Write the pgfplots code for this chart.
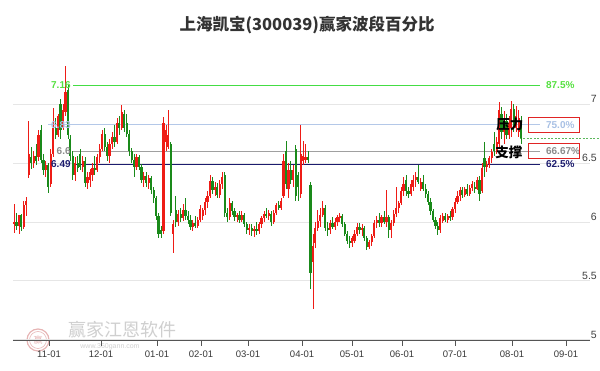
\documentclass[border=0pt]{standalone}
\usepackage{pgfplots}
\pgfplotsset{compat=1.18}
\usepackage{pgfplotstable}
\usepackage{fontspec}
\setmainfont{Liberation Sans}
\newfontfamily\cjk{Noto Sans CJK SC}
\definecolor{upred}{HTML}{EE1C16}
\definecolor{dngreen}{HTML}{1A8A1A}
\definecolor{fibgreen}{HTML}{44DD44}
\definecolor{fibgreentxt}{HTML}{55E040}
\definecolor{fibblue}{HTML}{B4C8E8}
\definecolor{fibbluetxt}{HTML}{A8C0E4}
\definecolor{fibgray}{HTML}{A0A0A0}
\definecolor{fibgraytxt}{HTML}{8A8A8A}
\definecolor{fibnavy}{HTML}{1C1C6E}
\definecolor{gridc}{HTML}{E6E6E6}
\definecolor{axc}{HTML}{555555}
\definecolor{boxred}{HTML}{E02424}
\definecolor{curgreen}{HTML}{5CB85C}
\definecolor{wmtext}{HTML}{CFCFCF}
\definecolor{wmlogo}{HTML}{E6B4B4}
\tikzset{ylabelrt/.style={anchor=south east, inner sep=1pt, xshift=8pt, text=black!75, font=\fontsize{10.5}{12}\selectfont}}

\pgfplotstableread{
o h l c
5.99 6.15 5.91 6.00
6.00 6.08 5.93 5.97
5.97 6.05 5.90 6.06
6.06 6.07 5.92 5.96
5.96 6.18 5.94 6.14
6.14 6.21 6.05 6.18
6.40 6.86 6.37 6.58
6.55 6.64 6.45 6.50
6.50 6.60 6.46 6.56
6.56 6.66 6.48 6.52
6.55 6.78 6.52 6.74
6.78 6.82 6.50 6.53
6.53 6.58 6.40 6.44
6.44 6.52 6.38 6.48
6.48 6.50 6.25 6.30
6.32 6.62 6.30 6.58
6.58 6.97 6.55 6.80
6.80 6.88 6.70 6.74
6.74 6.92 6.72 6.90
7.00 7.04 6.70 6.78
6.80 7.00 6.78 6.95
6.93 7.32 6.90 7.10
7.12 7.16 6.70 6.74
6.70 6.74 6.52 6.56
6.56 6.60 6.36 6.40
6.40 6.55 6.35 6.50
6.50 6.56 6.42 6.46
6.58 6.62 6.44 6.47
6.47 6.56 6.42 6.52
6.52 6.55 6.30 6.33
6.33 6.42 6.28 6.38
6.36 6.45 6.30 6.42
6.40 6.50 6.35 6.46
6.46 6.56 6.40 6.44
6.44 6.58 6.42 6.55
6.55 6.66 6.50 6.62
6.62 6.78 6.60 6.75
6.75 6.80 6.60 6.64
6.64 6.68 6.52 6.56
6.56 6.70 6.50 6.66
6.66 6.76 6.62 6.72
6.72 6.82 6.64 6.68
6.68 6.88 6.66 6.84
6.84 6.90 6.74 6.80
6.80 6.99 6.78 6.93
6.92 6.95 6.76 6.80
6.84 6.92 6.72 6.75
6.75 6.78 6.56 6.60
6.60 6.63 6.50 6.53
6.53 6.58 6.38 6.47
6.47 6.58 6.44 6.55
6.55 6.57 6.44 6.47
6.47 6.49 6.33 6.36
6.36 6.42 6.30 6.39
6.39 6.42 6.30 6.33
6.33 6.40 6.28 6.37
6.37 6.39 6.24 6.27
6.27 6.30 6.16 6.20
6.20 6.22 6.02 6.05
6.05 6.08 5.86 5.90
5.93 5.97 5.86 5.90
5.92 6.89 5.90 6.84
6.68 6.82 6.60 6.78
6.64 6.95 6.62 6.74
6.66 6.68 6.05 6.08
5.90 6.02 5.74 5.98
6.10 6.22 5.96 6.00
6.00 6.10 5.97 6.07
6.07 6.12 6.00 6.03
6.03 6.15 6.01 6.10
6.10 6.20 6.02 6.05
6.05 6.09 5.98 6.02
6.02 6.06 5.93 5.96
5.96 6.02 5.92 5.99
5.99 6.05 5.95 5.97
5.97 6.04 5.95 6.02
6.02 6.14 6.00 6.11
6.05 6.12 6.02 6.10
6.10 6.20 6.06 6.17
6.17 6.26 6.12 6.22
6.22 6.40 6.20 6.35
6.35 6.38 6.24 6.27
6.27 6.34 6.22 6.30
6.30 6.33 6.20 6.23
6.23 6.36 6.20 6.32
6.32 6.42 6.28 6.38
6.40 6.42 6.04 6.08
6.08 6.12 6.00 6.04
6.04 6.20 6.02 6.16
6.16 6.18 6.06 6.09
6.09 6.12 6.01 6.04
6.04 6.08 6.00 6.06
6.06 6.09 5.99 6.02
6.02 6.09 6.00 6.06
6.06 6.08 5.96 5.98
5.98 6.00 5.90 5.93
5.93 5.98 5.89 5.95
5.95 5.98 5.88 5.92
5.92 5.97 5.87 5.94
5.94 6.00 5.89 5.92
5.92 6.00 5.90 5.98
5.98 6.05 5.95 6.03
6.03 6.09 6.00 6.07
6.07 6.12 6.03 6.05
6.05 6.10 6.02 6.08
6.07 6.09 5.97 6.00
6.00 6.10 5.98 6.08
6.08 6.16 6.06 6.14
6.14 6.18 6.10 6.12
6.12 6.20 6.10 6.18
6.22 6.58 6.20 6.52
6.60 6.69 6.28 6.32
6.28 6.50 6.20 6.44
6.44 6.52 6.32 6.36
6.36 6.48 6.30 6.44
6.62 6.65 6.18 6.22
6.40 6.42 6.18 6.30
6.24 6.82 6.20 6.58
6.52 6.69 6.48 6.56
6.53 6.66 6.50 6.55
6.55 6.60 6.50 6.53
6.31 6.34 5.43 5.57
5.66 5.90 5.26 5.80
5.82 6.00 5.78 5.95
5.95 6.10 5.92 6.01
6.01 6.12 5.96 6.06
6.06 6.18 6.04 6.12
6.12 6.14 5.92 5.95
5.95 6.00 5.88 5.93
5.93 6.02 5.90 5.99
5.99 6.04 5.94 5.96
5.96 6.03 5.93 6.00
6.00 6.06 5.97 6.04
6.04 6.08 6.00 6.05
6.05 6.07 5.96 5.98
5.98 6.00 5.88 5.90
5.90 5.92 5.81 5.84
5.84 5.88 5.78 5.82
5.82 5.88 5.79 5.86
5.84 5.93 5.82 5.90
5.90 5.99 5.88 5.96
5.96 5.99 5.90 5.93
5.93 5.98 5.88 5.95
5.95 5.97 5.84 5.86
5.86 5.88 5.76 5.79
5.79 5.85 5.77 5.83
5.83 5.90 5.80 5.88
5.88 6.02 5.86 5.99
5.99 6.05 5.95 6.02
6.02 6.08 5.96 5.99
5.99 6.06 5.96 6.04
6.04 6.09 5.98 6.00
6.00 6.27 5.96 6.04
6.04 6.06 5.86 5.93
5.93 6.02 5.86 5.99
5.99 6.10 5.97 6.07
6.07 6.30 6.04 6.12
6.12 6.18 6.08 6.16
6.16 6.30 6.14 6.26
6.26 6.38 6.22 6.32
6.36 6.40 6.22 6.26
6.26 6.30 6.20 6.24
6.24 6.36 6.22 6.32
6.30 6.40 6.26 6.36
6.36 6.42 6.30 6.38
6.38 6.48 6.32 6.34
6.28 6.37 6.26 6.34
6.34 6.40 6.26 6.28
6.28 6.32 6.20 6.24
6.24 6.26 6.14 6.17
6.17 6.20 6.06 6.09
6.09 6.11 6.00 6.02
6.02 6.04 5.94 5.97
5.97 6.00 5.89 5.93
5.93 6.06 5.91 6.03
6.01 6.08 5.99 6.05
6.05 6.08 6.00 6.02
6.02 6.07 5.99 6.05
6.05 6.09 6.01 6.04
6.04 6.13 6.02 6.11
6.11 6.20 6.08 6.17
6.17 6.26 6.15 6.22
6.22 6.30 6.18 6.27
6.27 6.30 6.20 6.23
6.23 6.30 6.21 6.28
6.28 6.32 6.22 6.24
6.24 6.31 6.22 6.29
6.29 6.35 6.26 6.32
6.30 6.34 6.25 6.28
6.28 6.38 6.27 6.36
6.36 6.39 6.18 6.24
6.26 6.50 6.25 6.46
6.54 6.68 6.38 6.47
6.47 6.52 6.42 6.49
6.49 6.56 6.46 6.54
6.54 6.62 6.50 6.59
6.66 6.76 6.56 6.60
6.60 6.72 6.58 6.68
6.66 7.02 6.62 6.95
6.92 6.98 6.70 6.76
6.76 6.94 6.66 6.86
6.86 6.92 6.70 6.74
6.74 6.90 6.70 6.84
6.80 7.03 6.72 6.96
6.96 7.00 6.76 6.82
6.80 6.98 6.76 6.90
6.76 6.95 6.72 6.88
6.86 6.90 6.66 6.71
}\candles

\begin{document}
\begin{tikzpicture}
\path[use as bounding box] (-13pt,-30pt) rectangle (587pt,341pt);
% watermark
\draw[wmlogo, line width=1.2pt] (25pt,1pt) circle (11pt);
\draw[wmlogo, line width=0.6pt] (25pt,1pt) circle (8.5pt);
\node[text=wmlogo, font=\cjk\fontsize{9}{9}\selectfont] at (25pt,1pt) {赢};
\node[text=wmtext, font=\cjk\fontsize{18}{18}\selectfont] at (110pt,11pt) {赢家江恩软件};
\node[text=wmtext, inner sep=0pt, font=\fontsize{7}{7}\selectfont] at (97pt,-6pt) {www.360gann.com};
\begin{axis}[
  at={(0,0)}, anchor=south west,
  scale only axis, width=577pt, height=286pt,
  xmin=-0.41, xmax=235.1, ymin=4.99, ymax=7.417,
  clip=false,
  axis line style={draw=none},
  ytick={5,5.5,6,6.5,7}, yticklabels={}, ymajorgrids,
  grid style={gridc, line width=0.8pt},
  y tick style={draw=none},
  xtick={14.3,35.5,58.4,76.3,95.5,117.6,138,158.4,180,203.3,225.3},
  xticklabels={11-01,12-01,01-01,02-01,03-01,04-01,05-01,06-01,07-01,08-01,09-01},
  xtick pos=left, tick align=outside, major tick length=5pt,
  x tick style={draw=axc, line width=0.8pt},
  xticklabel style={font=\fontsize{9.5}{11}\selectfont, text=black!78, yshift=-1pt},
  /pgf/number format/assume math mode=true,
]
\draw[axc, line width=1pt] (rel axis cs:0,0) -- (rel axis cs:1,0);
% fib lines
\addplot[fibgreen, line width=0.8pt, mark=none] coordinates {(24.1,7.16) (214.7,7.16)};
\addplot[fibblue, line width=0.8pt, mark=none] coordinates {(13.9,6.825) (214.7,6.825)};
\addplot[fibgray, line width=0.8pt, mark=none] coordinates {(24.1,6.60) (214.7,6.60)};
\addplot[fibnavy, line width=0.8pt, mark=none] coordinates {(24.1,6.49) (214.7,6.49)};
\addplot[curgreen, line width=0.8pt, dash pattern=on 2pt off 1.5pt, mark=none] coordinates {(206.5,6.71) (239.2,6.71)};
% candles: wicks
\addplot[draw=none, mark=none, forget plot,
  error bars/.cd, y dir=both, y explicit, error mark=none,
  error bar style={draw=upred, line width=0.8pt, solid}]
  table[x expr=\coordindex, y expr={(\thisrow{h}+\thisrow{l})/2},
        y error expr={(\thisrow{c}<\thisrow{o}) ? 0 : (\thisrow{h}-\thisrow{l})/2}] {\candles};
\addplot[draw=none, mark=none, forget plot,
  error bars/.cd, y dir=both, y explicit, error mark=none,
  error bar style={draw=dngreen, line width=0.8pt, solid}]
  table[x expr=\coordindex, y expr={(\thisrow{h}+\thisrow{l})/2},
        y error expr={(\thisrow{c}<\thisrow{o}) ? (\thisrow{h}-\thisrow{l})/2 : 0}] {\candles};
% candles: bodies
\addplot[draw=none, mark=none, forget plot,
  error bars/.cd, y dir=both, y explicit, error mark=none,
  error bar style={draw=upred, line width=2.2pt, solid}]
  table[x expr=\coordindex, y expr={(\thisrow{o}+\thisrow{c})/2},
        y error expr={(\thisrow{c}<\thisrow{o}) ? 0 : max((\thisrow{c}-\thisrow{o})/2,0.006)}] {\candles};
\addplot[draw=none, mark=none, forget plot,
  error bars/.cd, y dir=both, y explicit, error mark=none,
  error bar style={draw=dngreen, line width=2.2pt, solid}]
  table[x expr=\coordindex, y expr={(\thisrow{o}+\thisrow{c})/2},
        y error expr={(\thisrow{c}<\thisrow{o}) ? (\thisrow{o}-\thisrow{c})/2 : 0}] {\candles};
% y tick labels
\node[ylabelrt] at (axis cs:235.1,5) {5};
\node[ylabelrt] at (axis cs:235.1,5.5) {5.5};
\node[ylabelrt] at (axis cs:235.1,6) {6};
\node[ylabelrt] at (axis cs:235.1,6.5) {6.5};
\node[ylabelrt] at (axis cs:235.1,7) {7};
% left fib labels
\node[anchor=east, inner sep=1pt, text=fibgreentxt, font=\bfseries\fontsize{10}{12}\selectfont] at (axis cs:23.6,7.16) {7.16};
\node[anchor=east, inner sep=1pt, text=fibbluetxt, font=\bfseries\fontsize{10}{12}\selectfont] at (axis cs:23.6,6.825) {6.83};
\node[anchor=east, inner sep=1pt, text=fibgraytxt, font=\bfseries\fontsize{10}{12}\selectfont] at (axis cs:23.6,6.60) {6.6};
\node[anchor=east, inner sep=1pt, text=fibnavy, font=\bfseries\fontsize{10}{12}\selectfont] at (axis cs:23.6,6.49) {6.49};
% right fib labels
\node[anchor=west, inner sep=1pt, text=fibgreentxt, font=\bfseries\fontsize{10}{12}\selectfont] at (axis cs:216.7,7.16) {87.5\%};
\node[anchor=west, inner sep=1pt, text=fibbluetxt, font=\bfseries\fontsize{10}{12}\selectfont] at (axis cs:216.7,6.825) {75.0\%};
\node[anchor=west, inner sep=1pt, text=fibgraytxt, font=\bfseries\fontsize{10}{12}\selectfont] at (axis cs:216.7,6.60) {66.67\%};
\node[anchor=west, inner sep=1pt, text=fibnavy, font=\bfseries\fontsize{10}{12}\selectfont] at (axis cs:216.7,6.49) {62.5\%};
\draw[boxred, line width=1pt] (axis cs:209.8,6.889) rectangle (axis cs:231,6.762);
\draw[boxred, line width=1pt] (axis cs:209.8,6.668) rectangle (axis cs:231,6.540);
\node[inner sep=0pt, font=\cjk\bfseries\fontsize{13.5}{14}\selectfont] at (axis cs:202.4,6.83) {压力};
\node[inner sep=0pt, font=\cjk\bfseries\fontsize{13.5}{14}\selectfont] at (axis cs:202.0,6.59) {支撑};
% title
\node[text=black!80, font=\cjk\bfseries\fontsize{16.5}{18}\selectfont] at (axis cs:119.6,7.672) {上海凯宝(300039)赢家波段百分比};
\end{axis}
\end{tikzpicture}
\end{document}
